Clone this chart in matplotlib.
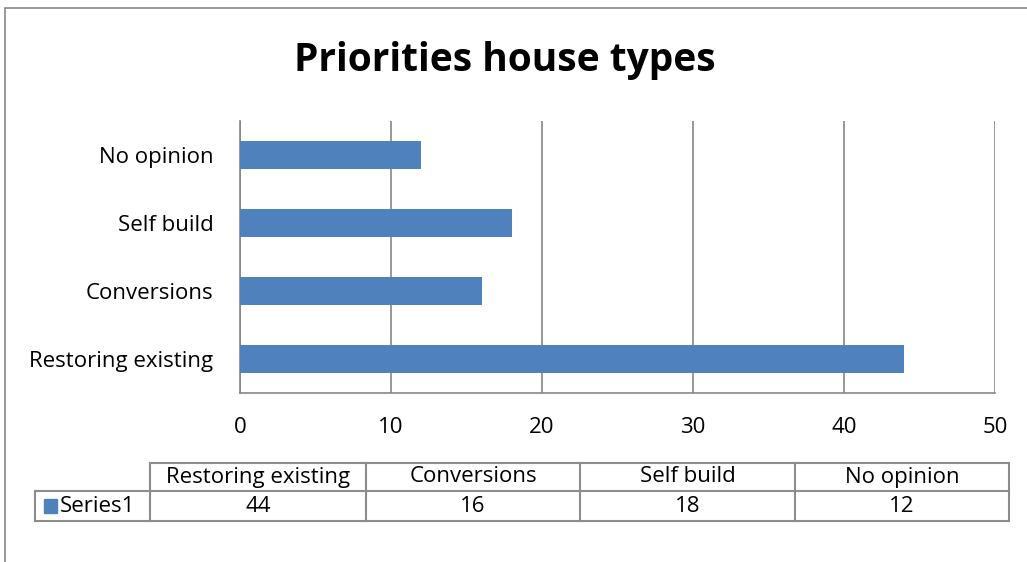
import numpy as np
import matplotlib
matplotlib.use("Agg")
import matplotlib.pyplot as plt
from matplotlib.patches import Rectangle

plt.rcParams["font.family"] = ["Open Sans", "DejaVu Sans"]

categories = ["Restoring existing", "Conversions", "Self build", "No opinion"]
values = [44, 16, 18, 12]
series_name = "Series1"
title = "Priorities house types"
xticks = [0, 10, 20, 30, 40, 50]

bar_color = "#4f81bd"
grid_color = "#868686"
fs = 16

W, H = 1027, 562
fig = plt.figure(figsize=(W / 100, H / 100), dpi=100)


def fx(px):
    return px / W


def fy(py):
    return 1 - py / H


# outer chart border
fig.patches.append(Rectangle((fx(5), fy(600)), fx(1100), fy(8) - fy(600),
                             transform=fig.transFigure, fill=False,
                             edgecolor="#888888", lw=1.2))

ax = fig.add_axes([fx(240), fy(393), fx(995) - fx(240), fy(121) - fy(393)])
y = np.arange(len(categories))
ax.barh(y, values, height=0.4, color=bar_color, zorder=3)
ax.set_xlim(0, 50)
ax.set_ylim(-0.5, len(categories) - 0.5)
ax.set_xticks(xticks)
ax.set_yticks(y)
ax.set_yticklabels(categories, fontsize=fs)
ax.tick_params(axis="x", labelsize=fs, length=0, pad=17)
ax.tick_params(axis="y", length=0, pad=19)
ax.grid(axis="x", color=grid_color, lw=1.2, zorder=0)
for s in ["top", "right"]:
    ax.spines[s].set_visible(False)
for s in ["left", "bottom"]:
    ax.spines[s].set_color(grid_color)
    ax.spines[s].set_linewidth(1.2)

fig.text(fx(505), fy(61), title, ha="center", va="center",
         fontsize=28, fontweight="bold")

# data table below the plot
col_edges = [35, 150, 366, 580, 795, 1009]
row_edges = [463, 491, 521]
lc = "#8c8c8c"


def hline(py, x0, x1):
    fig.add_artist(plt.Line2D([fx(x0), fx(x1)], [fy(py), fy(py)],
                              transform=fig.transFigure, color=lc, lw=1.5))


def vline(px, y0, y1):
    fig.add_artist(plt.Line2D([fx(px), fx(px)], [fy(y0), fy(y1)],
                              transform=fig.transFigure, color=lc, lw=1.5))


hline(row_edges[0], col_edges[1], col_edges[-1])
hline(row_edges[1], col_edges[0], col_edges[-1])
hline(row_edges[2], col_edges[0], col_edges[-1])
vline(col_edges[0], row_edges[1], row_edges[2])
for c in col_edges[1:]:
    vline(c, row_edges[0], row_edges[2])

ymid0 = (row_edges[0] + row_edges[1]) / 2
ymid1 = (row_edges[1] + row_edges[2]) / 2
for i, (cat, val) in enumerate(zip(categories, values)):
    xm = (col_edges[i + 1] + col_edges[i + 2]) / 2
    fig.text(fx(xm), fy(ymid0), cat, ha="center", va="center", fontsize=fs)
    fig.text(fx(xm), fy(ymid1), str(val), ha="center", va="center",
             fontsize=fs)

fig.patches.append(Rectangle((fx(44), fy(ymid1 + 7)), fx(13), fy(0) - fy(14),
                             transform=fig.transFigure, color=bar_color))
fig.text(fx(60), fy(ymid1), series_name, ha="left", va="center", fontsize=fs)

fig.savefig("out.png", dpi=100)
